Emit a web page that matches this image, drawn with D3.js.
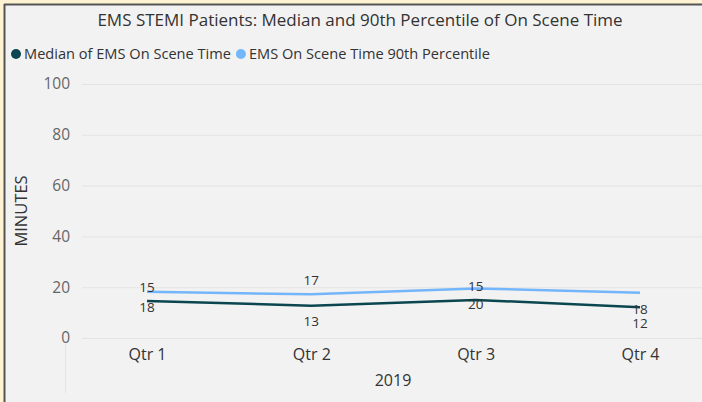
<!DOCTYPE html>
<html lang="en">
<head>
<meta charset="UTF-8">
<title>EMS STEMI Patients: Median and 90th Percentile of On Scene Time</title>
<script src="https://d3js.org/d3.v7.min.js"></script>
<style>
  html, body { margin: 0; padding: 0; background: #fff3d4; }
  svg { display: block; }
  text { font-family: "Open Sans", "Noto Sans", sans-serif; }
</style>
</head>
<body>
<svg id="chart" width="702" height="402"></svg>
<script>
// chart data
const quarters = ["Qtr 1", "Qtr 2", "Qtr 3", "Qtr 4"];
const medianTime = [14.6, 12.7, 15.0, 12.1];
const p90Time = [18.2, 17.2, 19.5, 17.8];
const yTicks = [0, 20, 40, 60, 80, 100];
const yearLabel = "2019";

// where Power BI pushed each data label (relative to its own point)
const medianLabelSide = ["above", "below", "above", "below"];
const p90LabelSide = ["below", "above", "below", "below"];

const series = [
  { name: "Median of EMS On Scene Time", values: medianTime, color: "#0b4650", sides: medianLabelSide },
  { name: "EMS On Scene Time 90th Percentile", values: p90Time, color: "#74b6fb", sides: p90LabelSide }
];

const svg = d3.select("#chart");

// panel with the dark frame on top and left
svg.append("rect")
  .attr("x", 4).attr("y", 4)
  .attr("width", 702).attr("height", 402)
  .attr("fill", "#f2f2f2");
svg.append("line")
  .attr("x1", 4.5).attr("x2", 4.5).attr("y1", 4).attr("y2", 402)
  .attr("stroke", "#555").attr("stroke-width", 2);
svg.append("line")
  .attr("x1", 4).attr("x2", 702).attr("y1", 4.5).attr("y2", 4.5)
  .attr("stroke", "#555").attr("stroke-width", 2);

// title
svg.append("text")
  .attr("x", 360).attr("y", 26)
  .attr("text-anchor", "middle")
  .attr("fill", "#333")
  .style("font-size", "17px")
  .text("EMS STEMI Patients: Median and 90th Percentile of On Scene Time");

// legend
let lx = 16;
series.forEach(s => {
  svg.append("circle").attr("cx", lx).attr("cy", 54).attr("r", 5).attr("fill", s.color);
  const t = svg.append("text")
    .attr("x", lx + 8).attr("y", 59)
    .attr("fill", "#333")
    .style("font-size", "14.6px")
    .text(s.name);
  lx += 8 + t.node().getComputedTextLength() + 10;
});

// scales
const x = d3.scalePoint().domain(quarters).range([147, 640]);
const y = d3.scaleLinear().domain([0, 100]).range([338, 84]);

// gridlines + y ticks
const yAxis = svg.append("g")
  .attr("transform", "translate(82,0)")
  .call(d3.axisLeft(y).tickValues(yTicks).tickSize(-620).tickPadding(12));
yAxis.select(".domain").remove();
yAxis.selectAll(".tick line").attr("stroke", "#e4e4e4").attr("stroke-width", 1);
yAxis.selectAll(".tick text")
  .attr("fill", "#666")
  .style("font-size", "15.5px")
  .style("font-family", "\"Open Sans\", sans-serif");

// y title
svg.append("text")
  .attr("transform", "translate(27,211) rotate(-90)")
  .attr("text-anchor", "middle")
  .attr("fill", "#333")
  .style("font-size", "16.5px")
  .text("MINUTES");

// faint divider under the category axis
svg.append("line")
  .attr("x1", 65.5).attr("x2", 65.5).attr("y1", 344).attr("y2", 393)
  .attr("stroke", "#e4e4e4");

// x axis
const xAxis = svg.append("g")
  .attr("transform", "translate(0,338)")
  .call(d3.axisBottom(x).tickSize(0).tickPadding(11));
xAxis.select(".domain").remove();
xAxis.selectAll(".tick text")
  .attr("fill", "#333")
  .style("font-size", "16px")
  .style("font-family", "\"Open Sans\", sans-serif");

svg.append("text")
  .attr("x", 393).attr("y", 386)
  .attr("text-anchor", "middle")
  .attr("fill", "#333")
  .style("font-size", "16px")
  .text(yearLabel);

// lines
const line = d3.line()
  .x((d, i) => x(quarters[i]))
  .y(d => y(d));

series.slice().reverse().forEach(s => {
  svg.append("path")
    .datum(s.values)
    .attr("fill", "none")
    .attr("stroke", s.color)
    .attr("stroke-width", 2.5)
    .attr("d", line);
});

// data labels
series.forEach(s => {
  svg.append("g").selectAll("text")
    .data(s.values)
    .join("text")
    .attr("x", (d, i) => x(quarters[i]))
    .attr("y", (d, i) => y(d) + (s.sides[i] === "above" ? -14 : 16))
    .attr("dy", "0.35em")
    .attr("text-anchor", "middle")
    .attr("fill", "#333")
    .style("font-size", "13.5px")
    .text(d => Math.round(d));
});
</script>
</body>
</html>
